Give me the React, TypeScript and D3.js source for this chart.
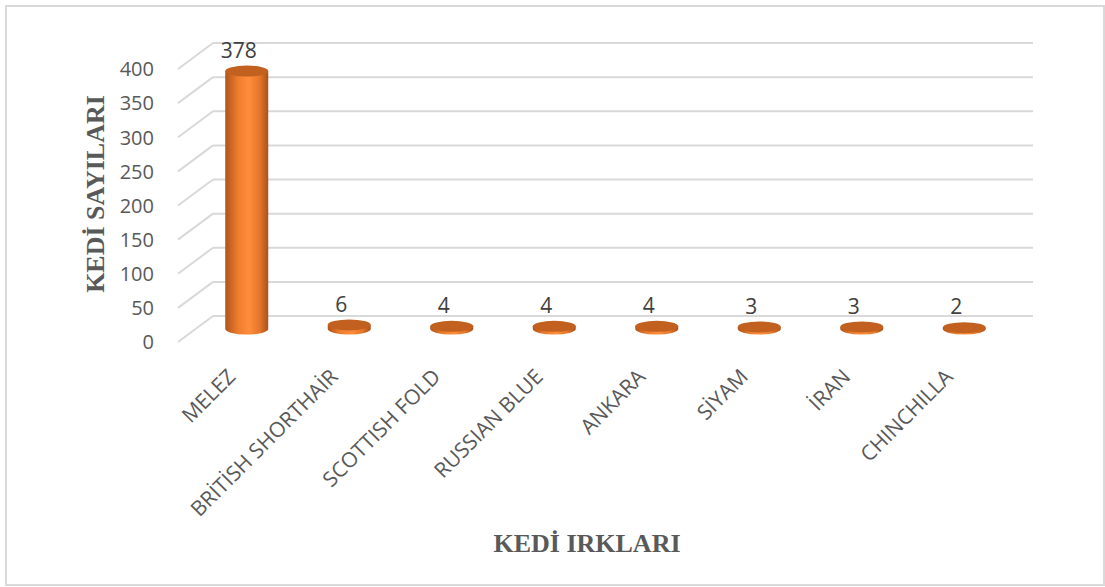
import React from "react";
import * as d3 from "d3";

const categories = ["MELEZ", "BRİTİSH SHORTHAİR", "SCOTTISH FOLD", "RUSSIAN BLUE", "ANKARA", "SİYAM", "İRAN", "CHINCHILLA"];
const values = [378, 6, 4, 4, 4, 3, 3, 2];
const yTicks = [0, 50, 100, 150, 200, 250, 300, 350, 400];

const W = 1105;
const H = 587;
const DX = -35;
const DY = 26;

export default function App() {
  const x = d3.scaleBand<string>().domain(categories).range([213, 1033]).paddingInner(0).paddingOuter(0);
  const y = d3.scaleLinear().domain([0, 400]).range([316, 43]);
  const rx = 21.5;
  const ry = 5.5;
  const font = "'Open Sans', 'Noto Sans', sans-serif";
  const serif = "'Liberation Serif', 'DejaVu Serif', serif";

  return (
    <svg width={W} height={H} style={{ position: "absolute", left: 0, top: 0, background: "#fff" }}>
      <defs>
        <linearGradient id="cyl" x1="0" x2="1" y1="0" y2="0">
          <stop offset="0" stopColor="#b0541a" />
          <stop offset="0.3" stopColor="#ef7d2e" />
          <stop offset="0.55" stopColor="#ff8d3b" />
          <stop offset="0.8" stopColor="#e5762a" />
          <stop offset="1" stopColor="#a8521a" />
        </linearGradient>
      </defs>
      <rect x={6} y={6} width={1098} height={579} fill="#fff" stroke="#d9d9d9" strokeWidth={2} />
      {yTicks.map((t) => (
        <g key={t}>
          <line x1={213} x2={1033} y1={y(t)} y2={y(t)} stroke="#d9d9d9" strokeWidth={2} />
          <line x1={213} x2={213 + DX} y1={y(t)} y2={y(t) + DY} stroke="#d9d9d9" strokeWidth={2} />
          <text x={154} y={y(t) + DY + 2} textAnchor="end" dominantBaseline="middle" fontFamily={font} fontSize={20} fill="#595959">
            {t}
          </text>
        </g>
      ))}
      {categories.map((c, i) => {
        const v = values[i];
        const cx = (x(c) as number) + x.bandwidth() / 2 + DX / 2;
        const yb = y(0) + DY / 2;
        const yt = y(v) + DY / 2;
        const body = `M${cx - rx},${yt} L${cx - rx},${yb} A${rx},${ry} 0 0 0 ${cx + rx},${yb} L${cx + rx},${yt} Z`;
        return (
          <g key={c}>
            <path d={body} fill="url(#cyl)" />
            <ellipse cx={cx} cy={yt} rx={rx} ry={ry} fill="#c2601f" />
            <text x={cx - 8} y={yt - 19} textAnchor="middle" dominantBaseline="middle" fontFamily={font} fontSize={21} fill="#404040">
              {v}
            </text>
            <text
              transform={`translate(${cx - 10},${378}) rotate(-45)`}
              textAnchor="end"
              fontFamily={font}
              fontSize={21}
              fill="#595959"
            >
              {c}
            </text>
          </g>
        );
      })}
      <text
        transform="translate(104,194) rotate(-90)"
        textAnchor="middle"
        fontFamily={serif}
        fontWeight="bold"
        fontSize={26}
        fill="#595959"
      >
        KEDİ SAYILARI
      </text>
      <text x={587} y={552} textAnchor="middle" fontFamily={serif} fontWeight="bold" fontSize={26} fill="#595959">
        KEDİ IRKLARI
      </text>
    </svg>
  );
}
